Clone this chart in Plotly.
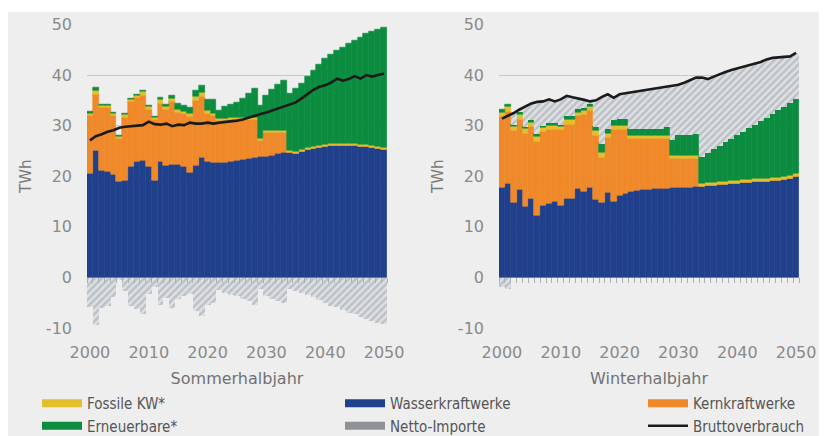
import plotly.graph_objects as go

years = list(range(2000, 2051))

# ---------------- Sommerhalbjahr (TWh) ----------------
s_wasser = [20.6, 25.0, 21.2, 21.0, 20.4, 18.9, 19.1, 22.0, 23.0, 23.1,
            22.0, 19.1, 22.9, 22.1, 22.3, 22.3, 21.9, 20.7, 22.2, 23.7,
            23.0, 22.8, 22.7, 22.8, 22.9, 23.1, 23.3, 23.5, 23.7, 23.9,
            24.0, 24.2, 24.4, 24.6, 24.7, 24.4, 24.9, 25.2, 25.5, 25.7,
            25.9, 26.0, 26.1, 26.1, 26.0, 26.0, 25.9, 25.8, 25.7, 25.5,
            25.2]
s_kern = [11.5, 11.2, 12.4, 12.5, 11.6, 8.5, 12.6, 12.7, 12.5, 12.9,
          11.2, 12.1, 11.5, 11.1, 12.4, 10.4, 10.5, 11.2, 12.8, 12.0,
          9.4, 9.2, 8.3, 8.3, 8.3, 8.1, 8.0, 7.8, 7.6, 3.2,
          4.6, 4.4, 4.2, 4.0, 0, 0, 0, 0, 0, 0,
          0, 0, 0, 0, 0, 0, 0, 0, 0, 0,
          0]
s_fossil = [0.4, 0.8, 0.3, 0.4, 0.4, 0.4, 0.5, 0.4, 0.4, 0.7,
            0.5, 0.4, 0.7, 0.5, 0.6, 0.5, 0.5, 0.5, 0.7, 0.8,
            0.6, 0.5, 0.4, 0.4, 0.4, 0.4, 0.4, 0.4, 0.4, 0.4,
            0.4, 0.4, 0.4, 0.4, 0.4, 0.4, 0.4, 0.4, 0.4, 0.4,
            0.4, 0.4, 0.4, 0.4, 0.4, 0.4, 0.4, 0.4, 0.4, 0.4,
            0.4]
s_erneuer = [0.4, 0.5, 0.3, 0.3, 0.3, 0.3, 0.3, 0.3, 0.3, 0.3,
             0.3, 0.3, 0.4, 0.5, 0.7, 1.2, 1.1, 1.2, 1.2, 1.5,
             2.2, 2.6, 1.6, 2.3, 2.6, 3.0, 3.7, 4.6, 5.6, 6.5,
             7.0, 8.1, 9.1, 9.9, 11.2, 12.5, 13.0, 14.1, 15.0, 16.0,
             16.9, 17.7, 18.4, 19.0, 19.8, 20.5, 21.2, 22.0, 22.5, 23.1,
             23.9]
s_import = [-5.8, -9.3, -6.0, -5.6, -3.7, -0.4, -2.5, -5.6, -6.2, -7.1,
            -3.1, -1.7, -5.3, -3.9, -6.0, -4.1, -3.6, -3.2, -6.6, -7.6,
            -5.3, -5.0, -2.4, -3.0, -3.3, -3.6, -4.1, -4.6, -5.3, -2.2,
            -3.5, -4.1, -4.6, -5.0, -2.1, -2.6, -2.9, -3.4, -3.8, -4.3,
            -5.0, -5.5, -5.8, -6.4, -6.9, -7.2, -7.8, -8.1, -8.6, -8.9,
            -9.2]
s_brutto = [27.1, 27.9, 28.3, 28.8, 29.1, 29.6, 29.8, 29.9, 30.1, 30.1,
            30.8, 30.3, 30.2, 30.4, 29.9, 30.2, 30.1, 30.6, 30.4, 30.4,
            30.6, 30.4, 30.6, 30.7, 30.8, 31.0, 31.2, 31.6, 32.0, 32.3,
            32.6, 33.0, 33.4, 33.8, 34.2, 34.6, 35.4, 36.2, 37.1, 37.7,
            38.0, 38.5, 39.3, 38.9, 39.2, 39.8, 39.3, 40.0, 39.7, 40.0,
            40.3]

# ---------------- Winterhalbjahr (TWh) ----------------
w_wasser = [17.7, 18.5, 14.8, 17.3, 14.1, 15.6, 12.3, 14.3, 14.6, 15.0,
            14.3, 15.6, 15.6, 17.6, 16.9, 17.8, 15.4, 14.9, 16.8, 15.1,
            16.1, 16.6, 17.0, 17.2, 17.4, 17.4, 17.6, 17.5, 17.6, 17.7,
            17.7, 17.8, 17.8, 17.9, 18.0, 18.1, 18.2, 18.3, 18.4, 18.5,
            18.6, 18.7, 18.8, 18.9, 19.0, 19.0, 19.1, 19.2, 19.3, 19.6,
            20.0]
w_kern = [14.1, 14.3, 14.2, 14.0, 14.4, 14.2, 14.5, 14.5, 14.7, 14.3,
          14.9, 14.7, 14.7, 14.4, 15.4, 15.2, 12.7, 8.8, 10.9, 14.2,
          13.2, 12.7, 10.4, 10.2, 10.0, 10.0, 9.8, 9.9, 9.8, 5.8,
          5.8, 5.7, 5.7, 5.6, 0, 0, 0, 0, 0, 0,
          0, 0, 0, 0, 0, 0, 0, 0, 0, 0,
          0]
w_fossil = [0.9, 0.9, 0.8, 0.9, 0.9, 0.9, 1.1, 0.8, 0.8, 0.8,
            0.7, 1.0, 1.0, 0.7, 0.7, 0.8, 0.9, 1.0, 0.7, 0.8,
            0.8, 0.8, 0.6, 0.6, 0.6, 0.6, 0.6, 0.6, 0.6, 0.7,
            0.7, 0.7, 0.7, 0.7, 0.6, 0.6, 0.6, 0.6, 0.6, 0.6,
            0.6, 0.6, 0.6, 0.6, 0.6, 0.6, 0.6, 0.6, 0.6, 0.6,
            0.6]
w_erneuer = [0.4, 0.4, 0.5, 0.6, 0.4, 0.6, 0.6, 0.5, 0.5, 0.5,
             0.4, 0.7, 0.7, 0.6, 0.6, 0.7, 0.8, 1.7, 1.0, 1.2,
             1.3, 1.3, 1.5, 1.4, 1.4, 1.4, 1.4, 1.4, 1.8, 3.0,
             4.1, 4.1, 4.1, 4.2, 5.4, 6.0, 6.6, 7.1, 7.8, 8.4,
             9.0, 9.5, 10.2, 10.8, 11.4, 12.0, 12.7, 13.3, 13.9, 14.3,
             14.7]
w_import = [-1.7, -2.2, 2.2, 0.4, 4.0, 3.1, 6.2, 4.7, 4.6, 4.2,
            4.9, 3.9, 3.6, 2.1, 1.5, 0.3, 5.2, 9.3, 6.8, 4.2,
            4.8, 5.0, 7.1, 7.4, 7.6, 7.7, 7.9, 8.1, 7.9, 10.7,
            9.8, 10.2, 10.7, 11.1, 15.5, 14.5, 14.3, 14.2, 13.8, 13.5,
            13.1, 12.8, 12.4, 12.0, 11.6, 11.5, 11.0, 10.4, 9.8, 9.2,
            9.1]
w_brutto = [31.4, 31.9, 32.5, 33.2, 33.8, 34.4, 34.7, 34.8, 35.2, 34.8,
            35.2, 35.9, 35.6, 35.4, 35.1, 34.8, 35.0, 35.7, 36.2, 35.5,
            36.2, 36.4, 36.6, 36.8, 37.0, 37.1, 37.3, 37.5, 37.7, 37.9,
            38.1, 38.5, 39.0, 39.5, 39.5, 39.2, 39.7, 40.2, 40.6, 41.0,
            41.3, 41.6, 42.0, 42.3, 42.6, 43.1, 43.4, 43.5, 43.6, 43.7,
            44.4]

y_ticks = [-10, 0, 10, 20, 30, 40, 50]
y_ticktext = ["-10", "0", "10", "20", "30", "40", "50"]
x_ticks = [2000, 2010, 2020, 2030, 2040, 2050]

# ---------------- styling ----------------
C_WASSER = "#20408c"
C_KERN = "#f0892a"
C_FOSSIL = "#e2bf2c"
C_ERNEUER = "#0b8c3e"
C_HATCH = "#97a1ad"
C_HATCH_BG = "#dfe0e1"
C_LINE = "#1b1b1b"
BG = "#eeeeee"
TICK_FONT = dict(family="DejaVu Sans", size=16, color="#8a8a8a")
TITLE_FONT = dict(family="DejaVu Sans", size=16, color="#727272")
YTITLE_FONT = dict(family="DejaVu Sans", size=15, color="#7a7a7a")
LEG_FONT = dict(family="Liberation Sans Narrow, DejaVu Sans Condensed, sans-serif", size=15, color="#555555")

fig = go.Figure()


def panel(xa, ya, wasser, kern, fossil, erneuer, imp, brutto):
    stack = [("Wasserkraftwerke", wasser, C_WASSER),
             ("Kernkraftwerke", kern, C_KERN),
             ("Fossile KW*", fossil, C_FOSSIL),
             ("Erneuerbare*", erneuer, C_ERNEUER)]
    for name, vals, col in stack:
        fig.add_trace(go.Bar(x=years, y=vals, name=name, xaxis=xa, yaxis=ya, width=1,
                             marker=dict(color=col, line=dict(color=col, width=0.6)),
                             showlegend=False))
    fig.add_trace(go.Bar(x=years, y=imp, name="Netto-Importe", xaxis=xa, yaxis=ya, width=1,
                         marker=dict(color=C_HATCH_BG, line=dict(width=0),
                                     pattern=dict(shape="/", fgcolor=C_HATCH, size=5, solidity=0.5)),
                         showlegend=False))
    fig.add_trace(go.Scatter(x=years, y=brutto, name="Bruttoverbrauch", mode="lines",
                             line=dict(color=C_LINE, width=2.6), xaxis=xa, yaxis=ya,
                             showlegend=False))


panel("x", "y", s_wasser, s_kern, s_fossil, s_erneuer, s_import, s_brutto)
panel("x2", "y2", w_wasser, w_kern, w_fossil, w_erneuer, w_import, w_brutto)

# invisible helpers so the zero-line tick axes get drawn
fig.add_trace(go.Scatter(x=[None], y=[None], xaxis="x3", yaxis="y", showlegend=False, hoverinfo="skip"))
fig.add_trace(go.Scatter(x=[None], y=[None], xaxis="x4", yaxis="y2", showlegend=False, hoverinfo="skip"))

# legend entries
legend_items = [("Fossile KW*", C_FOSSIL, 8, "legend"),
                ("Erneuerbare*", C_ERNEUER, 8, "legend"),
                ("Wasserkraftwerke", C_WASSER, 8, "legend2"),
                ("Netto-Importe", "#8e9196", 8, "legend2"),
                ("Kernkraftwerke", C_KERN, 8, "legend3"),
                ("Bruttoverbrauch", C_LINE, 2.5, "legend3")]
for name, col, w, lg in legend_items:
    fig.add_trace(go.Scatter(x=[None], y=[None], mode="lines", name=name,
                             line=dict(color=col, width=w), legend=lg,
                             showlegend=True, hoverinfo="skip"))

# the page body adds an 8 px offset; layout positions below are figure pixels
W, H = 827, 436
yd = [1 - 320 / H, 1 - 16.5 / H]
zero_pos = yd[0] + (yd[1] - yd[0]) * (0 - (-10)) / 60
xd1 = [79 / W, 379 / W]
xd2 = [491 / W, 791 / W]

xcommon = dict(range=[1999.5, 2050.5], tickvals=x_ticks, showgrid=False, zeroline=False,
               showline=False, ticks="", tickfont=TICK_FONT, ticklabelstandoff=13,
               automargin=False, title=dict(font=TITLE_FONT, standoff=11))
ycommon = dict(range=[-10, 50], tickvals=y_ticks, ticktext=y_ticktext, showgrid=True,
               gridcolor="#c8c8c8", gridwidth=1.3, zeroline=False, showline=False, ticks="",
               tickfont=TICK_FONT, ticklabelstandoff=14, automargin=False)
tickaxis = dict(range=[1999.5, 2050.5], tickmode="linear", tick0=1999.5, dtick=1,
                ticks="outside", ticklen=5, tickwidth=1, tickcolor="#a9b1bc",
                showticklabels=False, showgrid=False, zeroline=False, showline=False,
                automargin=False, anchor="free", position=zero_pos)

leg = dict(orientation="v", xanchor="left", yanchor="top", bgcolor="rgba(0,0,0,0)",
           font=LEG_FONT, itemwidth=40, tracegroupgap=0, traceorder="normal")
leg_top = 1 - 379 / H

ytitle_y = 1 - 169 / H
annotations = [dict(text="TWh", xref="paper", yref="paper", x=18 / W, y=ytitle_y,
                    textangle=-90, showarrow=False, xanchor="center", yanchor="middle",
                    font=YTITLE_FONT),
               dict(text="TWh", xref="paper", yref="paper", x=430 / W, y=ytitle_y,
                    textangle=-90, showarrow=False, xanchor="center", yanchor="middle",
                    font=YTITLE_FONT)]

fig.update_layout(
    width=W, height=H,
    margin=dict(l=0, r=0, t=0, b=0, pad=0, autoexpand=False),
    paper_bgcolor=BG, plot_bgcolor=BG,
    barmode="relative", bargap=0,
    xaxis=dict(domain=xd1, anchor="y", title_text="Sommerhalbjahr", **xcommon),
    yaxis=dict(domain=yd, anchor="x", **ycommon),
    xaxis2=dict(domain=xd2, anchor="y2", title_text="Winterhalbjahr", **xcommon),
    yaxis2=dict(domain=yd, anchor="x2", **ycommon),
    xaxis3=dict(overlaying="x", domain=xd1, **tickaxis),
    xaxis4=dict(overlaying="x2", domain=xd2, **tickaxis),
    legend=dict(x=29 / W, y=leg_top, **leg),
    legend2=dict(x=332 / W, y=leg_top, **leg),
    legend3=dict(x=635 / W, y=leg_top, **leg),
    annotations=annotations,
    shapes=[dict(type="rect", xref="paper", yref="paper", x0=0, x1=1, y0=1 - 4 / H, y1=1,
                 fillcolor="white", line=dict(width=0), layer="below")],
    showlegend=True,
)

fig.write_html("out.html")
